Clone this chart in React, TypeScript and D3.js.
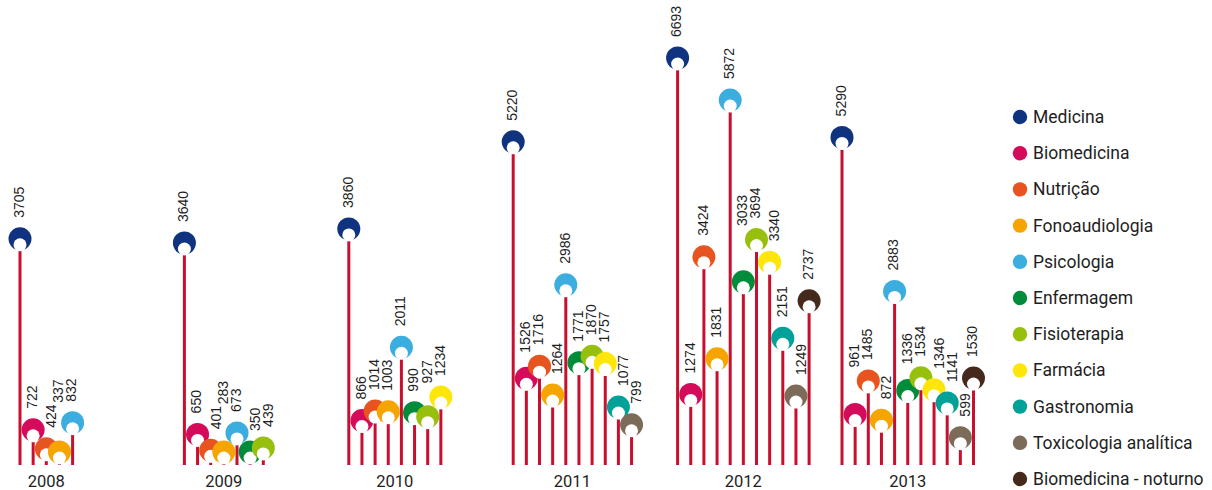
import React from "react";
import * as d3 from "d3";

const years = ["2008", "2009", "2010", "2011", "2012", "2013"];
const categories = [
  "Medicina",
  "Biomedicina",
  "Nutrição",
  "Fonoaudiologia",
  "Psicologia",
  "Enfermagem",
  "Fisioterapia",
  "Farmácia",
  "Gastronomia",
  "Toxicologia analítica",
  "Biomedicina - noturno",
];
const colors = [
  "#10337f",
  "#d40b5a",
  "#e8541f",
  "#f5a400",
  "#3caddf",
  "#008c3a",
  "#97bf0e",
  "#fee60a",
  "#00a198",
  "#7c6b59",
  "#45291c",
];

const medicina = [3705, 3640, 3860, 5220, 6693, 5290];
const biomedicina = [722, 650, 866, 1526, 1274, 961];
const nutricao = [424, 401, 1014, 1716, 3424, 1485];
const fonoaudiologia = [337, 283, 1003, 1264, 1831, 872];
const psicologia = [832, 673, 2011, 2986, 5872, 2883];
const enfermagem = [null, 350, 990, 1771, 3033, 1336];
const fisioterapia = [null, 439, 927, 1870, 3694, 1534];
const farmacia = [null, null, 1234, 1757, 3340, 1346];
const gastronomia = [null, null, null, 1077, 2151, 1141];
const toxicologia = [null, null, null, 799, 1249, 599];
const biomedicinaNoturno = [null, null, null, null, 2737, 1530];

const series: (number | null)[][] = [
  medicina,
  biomedicina,
  nutricao,
  fonoaudiologia,
  psicologia,
  enfermagem,
  fisioterapia,
  farmacia,
  gastronomia,
  toxicologia,
  biomedicinaNoturno,
];

const W = 1212;
const H = 490;
const BASE = 465;
const R = 11.5;
const CHAR = 7.7;
const LABEL_FONT = "'Liberation Sans', Arial, sans-serif";
const TEXT_FONT = "Roboto, 'Noto Sans', sans-serif";

export default function App() {
  const xYear = d3.scaleLinear().domain([0, years.length - 1]).range([20, 842]);
  const xItem = d3.scaleLinear().domain([0, 10]).range([0, 131.5]);
  const y = d3.scaleLinear().domain([0, 6530]).range([476, 58]).clamp(true);

  const groups = years.map((yr, gi) => {
    const items = series
      .map((s, ci) => ({ ci, v: s[gi] }))
      .filter((d) => d.v != null)
      .map((d) => {
        const x = xYear(gi) + xItem(d.ci);
        const cy = Math.min(y(d.v as number), BASE - 13);
        return { ...d, x, cy, label: String(d.v), lx: 0, lb: 0 };
      });
    const placed: { x0: number; x1: number; y0: number; y1: number }[] = [];
    const circles = items.map((it) => ({
      x0: it.x - R,
      x1: it.x + R,
      y0: it.cy - R,
      y1: it.cy + R,
    }));
    items.forEach((it, idx) => {
      const len = it.label.length * CHAR;
      const obstacles = () => [...circles.filter((_, j) => j !== idx), ...placed];
      const collide = (s: number, b: number) => {
        const box = { x0: it.x - 7 + s, x1: it.x + 3 + s, y0: b - len, y1: b };
        return obstacles().filter(
          (o) => o.x0 < box.x1 && o.x1 > box.x0 && o.y0 < box.y1 && o.y1 > box.y0
        );
      };
      let s = 0;
      let b = it.cy - 21;
      if (collide(0, b).length) {
        if (!collide(6, b).length) {
          s = 6;
        } else {
          let hits = collide(0, b);
          let guard = 0;
          while (hits.length && guard < 50) {
            b = Math.min(...hits.map((o) => o.y0)) - 2;
            hits = collide(0, b);
            guard++;
          }
        }
      }
      it.lx = it.x + 3.8 + s;
      it.lb = b;
      placed.push({ x0: it.x - 7 + s, x1: it.x + 3 + s, y0: b - len, y1: b });
    });
    const cx = (items[0].x + items[items.length - 1].x) / 2;
    return { yr, items, cx };
  });

  const legendY = d3.scaleLinear().domain([0, categories.length - 1]).range([117, 479]);

  return (
    <svg
      width={W}
      height={H}
      style={{ position: "absolute", left: 0, top: 0, background: "#fff" }}
    >
      {groups.map((g) => (
        <g key={g.yr}>
          {g.items.map((it) => (
            <line
              key={"s" + it.ci}
              x1={it.x}
              x2={it.x}
              y1={it.cy + 12}
              y2={BASE}
              stroke="#c8102e"
              strokeWidth={3}
            />
          ))}
          {g.items.map((it) => (
            <g key={"c" + it.ci}>
              <circle cx={it.x} cy={it.cy} r={R} fill={colors[it.ci]} />
              <circle cx={it.x} cy={it.cy + 6} r={6.5} fill="#fff" />
            </g>
          ))}
          {g.items.map((it) => (
            <text
              key={"t" + it.ci}
              transform={`translate(${it.lx},${it.lb}) rotate(-90)`}
              fontFamily={LABEL_FONT}
              fontSize={14}
              fill="#1e1e1e"
            >
              {it.label}
            </text>
          ))}
          <text
            x={g.cx}
            y={487}
            textAnchor="middle"
            fontFamily={TEXT_FONT}
            fontSize={16.5}
            fill="#1e1e1e"
          >
            {g.yr}
          </text>
        </g>
      ))}
      {categories.map((c, i) => (
        <g key={c}>
          <circle cx={1020} cy={legendY(i)} r={7.2} fill={colors[i]} />
          <text
            x={1033}
            y={legendY(i) + 6}
            fontFamily={TEXT_FONT}
            fontSize={17.5}
            fill="#1e1e1e"
          >
            {c}
          </text>
        </g>
      ))}
    </svg>
  );
}
